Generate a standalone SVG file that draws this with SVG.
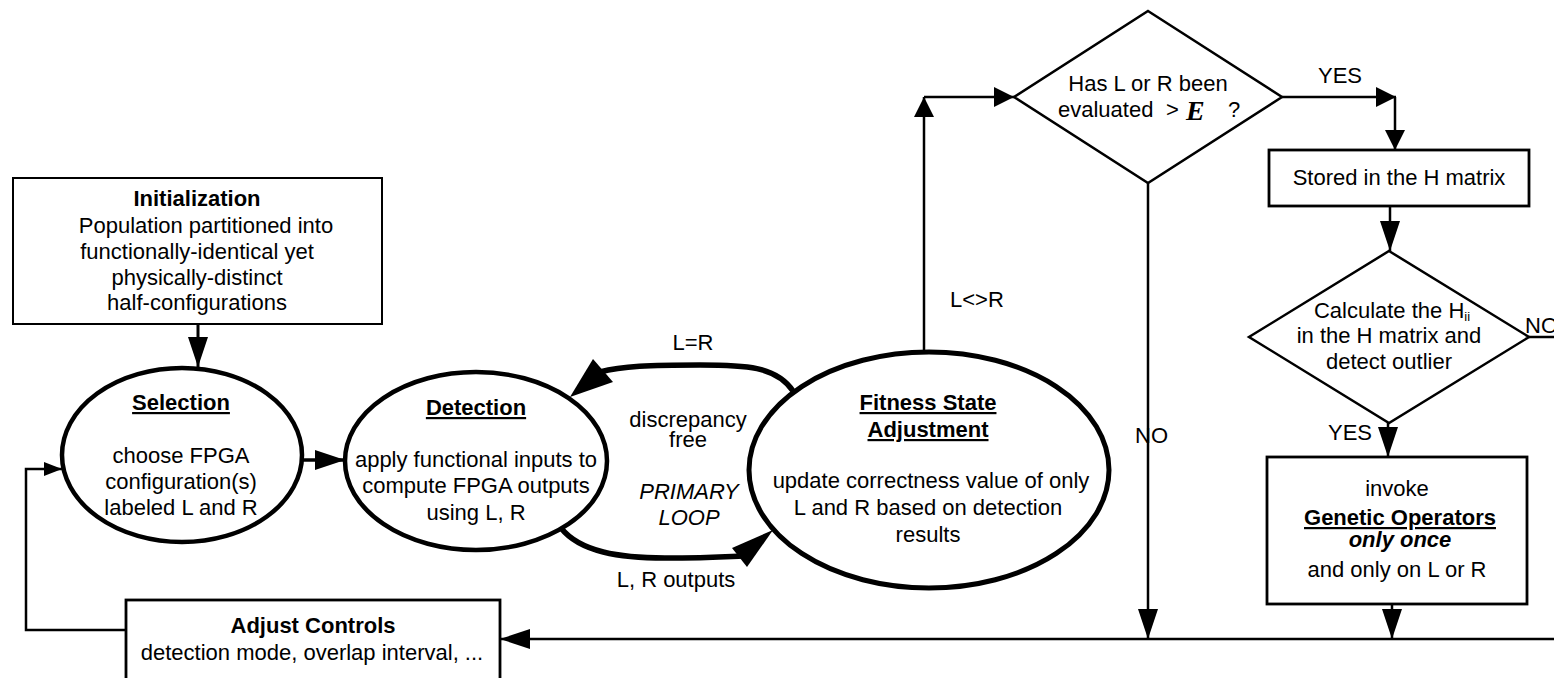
<svg xmlns="http://www.w3.org/2000/svg" width="1554" height="678" viewBox="0 0 1554 678">
<defs>
<style>
.t { font-family: "Liberation Sans", Arial, sans-serif; font-size: 22px; fill: #000; text-anchor: middle; }
.s { text-anchor: start; }
.b { font-weight: bold; }
.u { text-decoration: underline; }
.i { font-style: italic; }
.box { fill: #fff; stroke: #000; stroke-width: 2.8; }
.oval { fill: #fff; stroke: #000; stroke-width: 4.5; }
.dia { fill: #fff; stroke: #000; stroke-width: 2.5; }
.ln { fill: none; stroke: #000; stroke-width: 2.5; }
.thick { fill: none; stroke: #000; stroke-width: 5.5; }
.head { fill: #000; stroke: none; }
.sym { font-family: "Liberation Serif", "Times New Roman", serif; font-weight: bold; font-style: italic; font-size: 28px; }
</style>
<marker id="ah" markerUnits="userSpaceOnUse" markerWidth="30" markerHeight="20" viewBox="0 0 30 20" refX="30" refY="10" orient="auto">
<path d="M0,0 L30,10 L0,20 z" fill="#000"/>
</marker>
<marker id="ahs" markerUnits="userSpaceOnUse" markerWidth="20" markerHeight="20" viewBox="0 0 20 20" refX="20" refY="10" orient="auto">
<path d="M0,0 L20,10 L0,20 z" fill="#000"/>
</marker>
<marker id="aht" markerUnits="userSpaceOnUse" markerWidth="18" markerHeight="14" viewBox="0 0 18 14" refX="18" refY="7" orient="auto">
<path d="M0,0 L18,7 L0,14 z" fill="#000"/>
</marker>
</defs>
<rect width="1554" height="678" fill="#fff"/>

<g id="initialization">
<rect class="box" x="13" y="178" width="369" height="146" style="stroke-width:2"/>
<text class="t b" x="197" y="206">Initialization</text>
<text class="t" x="206" y="233">Population partitioned into</text>
<text class="t" x="197" y="259">functionally-identical yet</text>
<text class="t" x="197" y="285">physically-distinct</text>
<text class="t" x="197" y="310">half-configurations</text>
</g>

<g id="selection">
<ellipse class="oval" cx="182" cy="455" rx="120" ry="87"/>
<text class="t b u" x="181" y="410">Selection</text>
<text class="t" x="181" y="463">choose FPGA</text>
<text class="t" x="181" y="489">configuration(s)</text>
<text class="t" x="181" y="515">labeled L and R</text>
</g>

<g id="detection">
<ellipse class="oval" cx="476" cy="461" rx="131" ry="89"/>
<text class="t b u" x="476" y="415">Detection</text>
<text class="t" x="476" y="467">apply functional inputs to</text>
<text class="t" x="476" y="493">compute FPGA outputs</text>
<text class="t" x="476" y="520">using L, R</text>
</g>

<g id="fitness">
<ellipse class="oval" cx="929" cy="470" rx="180" ry="118" style="stroke-width:5"/>
<text class="t b u" x="928" y="410">Fitness State</text>
<text class="t b u" x="928" y="437">Adjustment</text>
<text class="t" x="931" y="488">update correctness value of only</text>
<text class="t" x="928" y="515">L and R based on detection</text>
<text class="t" x="928" y="542">results</text>
</g>

<g id="evaluated-check">
<polygon class="dia" points="1148,11 1282,97 1148,183 1014,97"/>
<text class="t" x="1148" y="91">Has L or R been</text>
<text class="t s" y="117"><tspan x="1058">evaluated</tspan><tspan x="1166">&gt;</tspan><tspan class="sym" x="1186" dy="3">E</tspan><tspan x="1228" dy="-3">?</tspan></text>
</g>

<g id="stored">
<rect class="box" x="1269" y="150" width="260" height="56"/>
<text class="t" x="1399" y="185">Stored in the H matrix</text>
</g>

<g id="outlier-check">
<polygon class="dia" points="1389,251 1529,337 1389,423 1249,337"/>
<text class="t" x="1392" y="318">Calculate the H<tspan style="font-size:13px" dy="3">ii</tspan></text>
<text class="t" x="1389" y="343">in the H matrix and</text>
<text class="t" x="1389" y="369">detect outlier</text>
</g>

<g id="genetic-operators">
<rect class="box" x="1267" y="457" width="260" height="147"/>
<text class="t" x="1397" y="496">invoke</text>
<text class="t b u" x="1400" y="525">Genetic Operators</text>
<text class="t b i" x="1400" y="547">only once</text>
<text class="t" x="1397" y="577">and only on L or R</text>
</g>

<g id="adjust-controls">
<rect class="box" x="126" y="600" width="374" height="95"/>
<text class="t b" x="313" y="633">Adjust Controls</text>
<text class="t" x="312" y="660">detection mode, overlap interval, ...</text>
</g>

<g id="connectors">
<path class="ln" d="M198,324 V367" marker-end="url(#ah)" style="stroke-width:3"/>
<path class="ln" d="M302,460 H345" marker-end="url(#ah)" style="stroke-width:3.5"/>
<path class="ln" d="M126,630 H26 V469 H62" marker-end="url(#aht)"/>

<path class="thick" d="M793,391 C776,366 745,365 700,365 C650,365 622,366 600,372"/>
<polygon class="head" points="570,397 593,359 613,382"/>
<path class="thick" d="M561,528 C580,552 620,558 665,558 C700,558 720,557 742,556"/>
<polygon class="head" points="773,530 732,548 747,567"/>

<path class="ln" d="M924,352 V97" marker-end="url(#ahs)"/>
<path class="ln" d="M924,97 H1014" marker-end="url(#ahs)"/>
<path class="ln" d="M1282,97 H1396" marker-end="url(#ahs)"/>
<path class="ln" d="M1395,97 V150" marker-end="url(#ahs)"/>
<path class="ln" d="M1390,206 V251" marker-end="url(#ah)"/>
<path class="ln" d="M1148,183 V639" marker-end="url(#ah)"/>
<path class="ln" d="M1388,423 V457" marker-end="url(#ah)"/>
<path class="ln" d="M1529,337 H1554"/>
<path class="ln" d="M1392,604 V639" marker-end="url(#ah)"/>
<path class="ln" d="M1554,639 H500" marker-end="url(#ah)"/>

<text class="t" x="693" y="350">L=R</text>
<text class="t" x="688" y="427">discrepancy</text>
<text class="t" x="688" y="447">free</text>
<text class="t i" x="689" y="499">PRIMARY</text>
<text class="t i" x="689" y="525">LOOP</text>
<text class="t" x="676" y="587">L, R outputs</text>
<text class="t s" x="950" y="307">L&lt;&gt;R</text>
<text class="t" x="1340" y="83">YES</text>
<text class="t s" x="1135" y="443">NO</text>
<text class="t" x="1350" y="440">YES</text>
<text class="t s" x="1525" y="333">NO</text>
</g>
</svg>
